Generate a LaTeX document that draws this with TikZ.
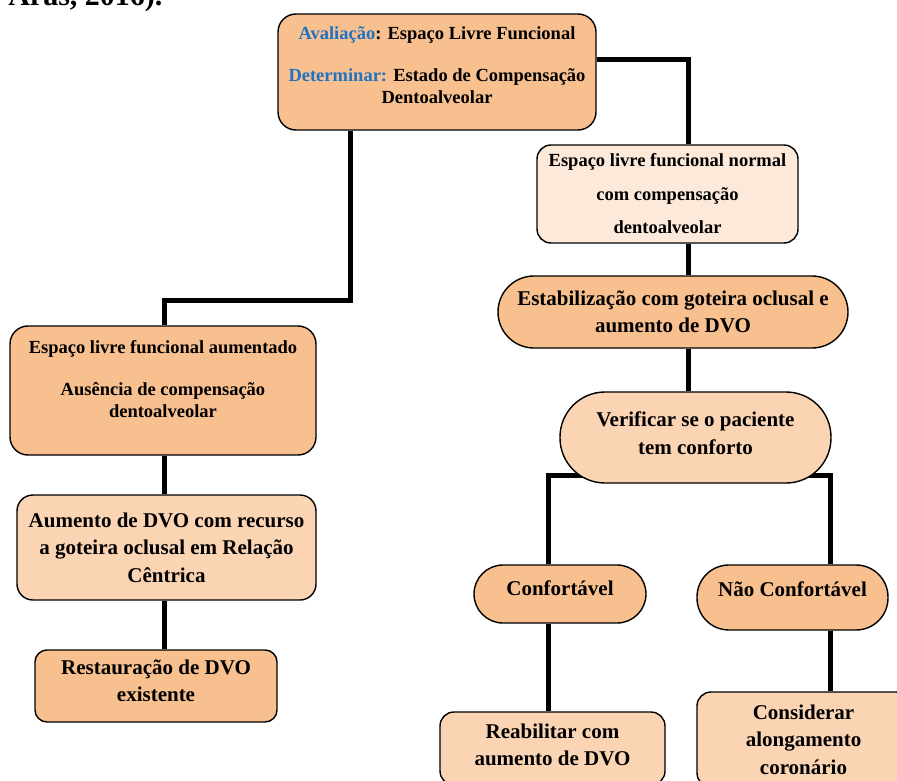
\documentclass[tikz,border=0pt]{standalone}
\usepackage{fontspec}
\setmainfont{Liberation Serif}
\usetikzlibrary{backgrounds}

\definecolor{peachdark}{HTML}{F8BF8F}
\definecolor{peachlight}{HTML}{FBD4B3}
\definecolor{peachpale}{HTML}{FDE9DA}
\definecolor{titleblue}{HTML}{1F73C2}

\begin{document}
\begin{tikzpicture}[x=1pt,y=-1pt,
    box/.style={draw,line width=1.4pt,rounded corners=16pt,align=center,
      font=\bfseries\fontsize{21}{27.5}\selectfont,inner sep=0pt},
    smallbox/.style={box,font=\bfseries\fontsize{18.5}{22}\selectfont},
    link/.style={line width=5pt}]
  \useasboundingbox (0,0) rectangle (897,781);
  \clip (0,0) rectangle (897,781);
  \node[anchor=base east,font=\bfseries\fontsize{30}{30}\selectfont] (ref) at (166,6) {Aras, 2016).};
  % top
  \node[smallbox,fill=peachdark,minimum width=318pt,minimum height=116pt,rounded corners=18pt,text depth=14pt] (aval) at (437,72)
    {\textcolor{titleblue}{Avaliação}: Espaço Livre Funcional\\[20pt]
     \textcolor{titleblue}{Determinar:} Estado de Compensação\\Dentoalveolar};
  % right branch
  \node[smallbox,fill=peachpale,minimum width=261pt,minimum height=98pt,rounded corners=14pt,
    font=\bfseries\fontsize{18.5}{33.5}\selectfont] (normal) at (667.5,194)
    {Espaço livre funcional normal\\com compensação\\dentoalveolar};
  \node[box,fill=peachdark,minimum width=350pt,minimum height=72pt,rounded corners=36pt] (estab) at (673,312)
    {Estabilização com goteira oclusal e\\aumento de DVO};
  \node[box,fill=peachlight,minimum width=271pt,minimum height=91pt,rounded corners=45pt,text depth=9pt] (verif) at (695.5,437.5)
    {Verificar se o paciente\\tem conforto};
  \node[box,fill=peachdark,minimum width=172pt,minimum height=58pt,rounded corners=29pt,text depth=12pt] (conf) at (560,594)
    {Confortável};
  \node[box,fill=peachdark,minimum width=191pt,minimum height=65pt,rounded corners=32pt,text depth=17pt] (naoconf) at (792.5,597.5)
    {Não Confortável};
  \node[box,fill=peachlight,minimum width=225pt,minimum height=73pt,rounded corners=14pt,text depth=8pt] (reab) at (552.5,748.5)
    {Reabilitar com\\aumento de DVO};
  \node[box,fill=peachlight,minimum width=213pt,minimum height=95pt,rounded corners=14pt] (consid) at (803.5,739.5)
    {Considerar\\alongamento\\coronário};
  % left branch
  \node[smallbox,fill=peachdark,minimum width=306pt,minimum height=129pt,rounded corners=18pt,text depth=24pt] (aument) at (163,390.5)
    {Espaço livre funcional aumentado\\[20pt]Ausência de compensação\\dentoalveolar};
  \node[box,fill=peachlight,minimum width=299pt,minimum height=105pt] (dvo) at (166.5,547.5)
    {Aumento de DVO com recurso\\a goteira oclusal em Relação\\Cêntrica};
  \node[box,fill=peachdark,minimum width=242pt,minimum height=72pt,rounded corners=12pt,text depth=11pt] (rest) at (156,686)
    {Restauração de DVO\\existente};
  % connectors
  \coordinate (rx) at (688,0);
  \coordinate (lx) at (350,300);
  \coordinate (lc) at (164,0);
  \coordinate (bl) at (548,475);
  \coordinate (br) at (830,475);
  \begin{scope}[on background layer]
    \draw[link] ([yshift=12pt]aval.east) -| (rx |- normal.north);
    \draw[link] (rx |- normal.south) -- (rx |- estab.north);
    \draw[link] (rx |- estab.south) -- (rx |- verif.north);
    \draw[link] (bl |- conf.north) -- (bl) -- (br) -- (br |- naoconf.north);
    \draw[link] (bl |- conf.south) -- (bl |- reab.north);
    \draw[link] (br |- naoconf.south) -- (br |- consid.north);
    \draw[link] (aval.south -| lx) -- (lx) -| (lc |- aument.north);
    \draw[link] (lc |- aument.south) -- (lc |- dvo.north);
    \draw[link] (lc |- dvo.south) -- (lc |- rest.north);
  \end{scope}
\end{tikzpicture}
\end{document}
